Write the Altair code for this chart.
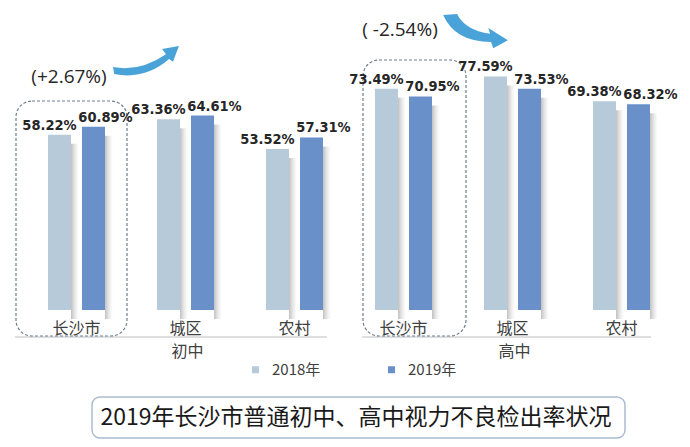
import altair as alt
import pandas as pd

groups = ["初中", "初中", "初中", "高中", "高中", "高中"]
categories = ["长沙市", "城区", "农村", "长沙市", "城区", "农村"]
rate_2018 = [58.22, 63.36, 53.52, 73.49, 77.59, 69.38]
rate_2019 = [60.89, 64.61, 57.31, 70.95, 73.53, 68.32]
years = ["2018年", "2019年"]
group_names = ["初中", "高中"]
change_labels = ["(+2.67%)", "( -2.54%)"]
title_text = "2019年长沙市普通初中、高中视力不良检出率状况"

C18 = "#B6CADA"
C19 = "#6990C9"
CJK = "Noto Sans CJK SC"

keys = [f"{g}|{c}" for g, c in zip(groups, categories)]
rows = []
for k, g, c, a, b in zip(keys, groups, categories, rate_2018, rate_2019):
    rows.append({"key": k, "group": g, "cat": c, "year": years[0], "rate": a})
    rows.append({"key": k, "group": g, "cat": c, "year": years[1], "rate": b})
df = pd.DataFrame(rows)
df["label"] = df["rate"].map(lambda v: f"{v:.2f}%")

grp_df = pd.DataFrame({"name": group_names, "key": [keys[1], keys[4]]})
one = pd.DataFrame({"d": [1]})

x = alt.X("key:N", sort=keys,
          scale=alt.Scale(domain=keys, paddingInner=0, paddingOuter=0),
          axis=alt.Axis(title=None, domain=False, ticks=False, labelAngle=0,
                        labelExpr="split(datum.label, '|')[1]", labelPadding=10,
                        labelFontSize=16, labelColor="#404040", labelFont=CJK))
xo = alt.XOffset("year:N", sort=years,
                 scale=alt.Scale(domain=years, paddingInner=0.3235, paddingOuter=0.765))
y = alt.Y("rate:Q", scale=alt.Scale(domain=[0, 100], nice=False), axis=None)

shadow_grad = alt.LinearGradient(
    gradient="linear", x1=0, x2=1, y1=0, y2=0,
    stops=[alt.GradientStop(color="rgba(255,255,255,0)", offset=0),
           alt.GradientStop(color="rgba(255,255,255,0)", offset=0.78),
           alt.GradientStop(color="rgba(120,120,120,0.45)", offset=0.80),
           alt.GradientStop(color="rgba(190,190,190,0.0)", offset=1)])

shadow = alt.Chart(df).mark_bar(width=39, yOffset=9, color=shadow_grad).encode(x=x, xOffset=xo, y=y)

bars = alt.Chart(df).mark_bar().encode(
    x=x, xOffset=xo, y=y,
    color=alt.Color("year:N", sort=years, scale=alt.Scale(domain=years, range=[C18, C19]),
                    legend=alt.Legend(title=None, orient="none", legendX=226, legendY=353,
                                      direction="horizontal", symbolType="square",
                                      symbolSize=49, symbolStrokeWidth=0,
                                      labelFontSize=15, labelFont=CJK, labelColor="#404040",
                                      labelOffset=9, columnPadding=63)))

lab_style = dict(dy=-5, baseline="alphabetic", font="DejaVu Sans Condensed, DejaVu Sans",
                 fontWeight="bold", fontSize=14.5, color="#262626")
lab18 = alt.Chart(df).transform_filter(alt.datum.year == years[0]).mark_text(dx=-10, **lab_style).encode(
    x=x, xOffset=xo, y=y, text="label:N")
lab19 = alt.Chart(df).transform_filter(alt.datum.year == years[1]).mark_text(dx=12, **lab_style).encode(
    x=x, xOffset=xo, y=y, text="label:N")

grp_lab = alt.Chart(grp_df).mark_text(dx=2, fontSize=16, font=CJK, color="#404040", baseline="middle").encode(
    x=x, y=alt.value(343), text="name:N")

line_style = dict(color="#BFBFBF", strokeWidth=1)
axis_l = alt.Chart(one).mark_rule(**line_style).encode(x=alt.value(-7), x2=alt.value(305), y=alt.value(328))
axis_r = alt.Chart(one).mark_rule(**line_style).encode(x=alt.value(340), x2=alt.value(629), y=alt.value(328))

box_style = dict(fill="white", fillOpacity=0, stroke="#6F7F8F", strokeWidth=1.2,
                 strokeDash=[3, 2], cornerRadius=16)
box_l = alt.Chart(one).mark_rect(**box_style).encode(
    x=alt.value(-6), x2=alt.value(105), y=alt.value(92), y2=alt.value(327))
box_r = alt.Chart(one).mark_rect(**box_style).encode(
    x=alt.value(341), x2=alt.value(444), y=alt.value(51), y2=alt.value(327))

arrow_up = ("M -0.94 0.26 Q -0.17 0.40 0.57 -0.11 L 0.46 -0.26 L 0.94 -0.34 "
            "L 0.77 0.11 L 0.66 0.03 Q -0.03 0.63 -0.91 0.46 Z")
arrow_down = ("M -0.51 -0.46 Q -0.29 0.0 0.43 0.11 L 0.38 -0.06 L 0.94 0.29 "
              "L 0.52 0.52 L 0.46 0.34 Q -0.57 0.34 -0.91 -0.43 Z")
arr_style = dict(filled=True, size=4900, color="#4AA3D8", opacity=1, strokeWidth=0)
arr_l = alt.Chart(one).mark_point(shape=arrow_up, **arr_style).encode(x=alt.value(124), y=alt.value(49))
arr_r = alt.Chart(one).mark_point(shape=arrow_down, **arr_style).encode(x=alt.value(453), y=alt.value(21))

ann_style = dict(font="Open Sans", fontSize=19, color="#262626", baseline="middle", align="center")
ann_l = alt.Chart(one).mark_text(text=change_labels[0], **ann_style).encode(x=alt.value(47), y=alt.value(68))
ann_r = alt.Chart(one).mark_text(text=change_labels[1], **ann_style).encode(x=alt.value(378), y=alt.value(21))

tbox = alt.Chart(one).mark_rect(fill="white", stroke="#A9BCCF", strokeWidth=1.5, cornerRadius=8).encode(
    x=alt.value(70), x2=alt.value(603), y=alt.value(388), y2=alt.value(429))
ttext = alt.Chart(one).mark_text(text=title_text, font=CJK, fontSize=23, color="#1a1a1a",
                                 baseline="middle", align="center").encode(
    x=alt.value(334), y=alt.value(409))

chart = alt.layer(
    axis_l, axis_r, box_l, box_r, shadow, bars, lab18, lab19, grp_lab,
    arr_l, arr_r, ann_l, ann_r, tbox, ttext
).properties(
    width=654, height=301,
    autosize=alt.AutoSizeParams(type="none"),
    padding={"left": 14, "top": 1, "right": 4, "bottom": 129},
    background="white",
).configure_view(stroke=None)

chart.save("out.html", embed_options={"renderer": "svg", "actions": False})
